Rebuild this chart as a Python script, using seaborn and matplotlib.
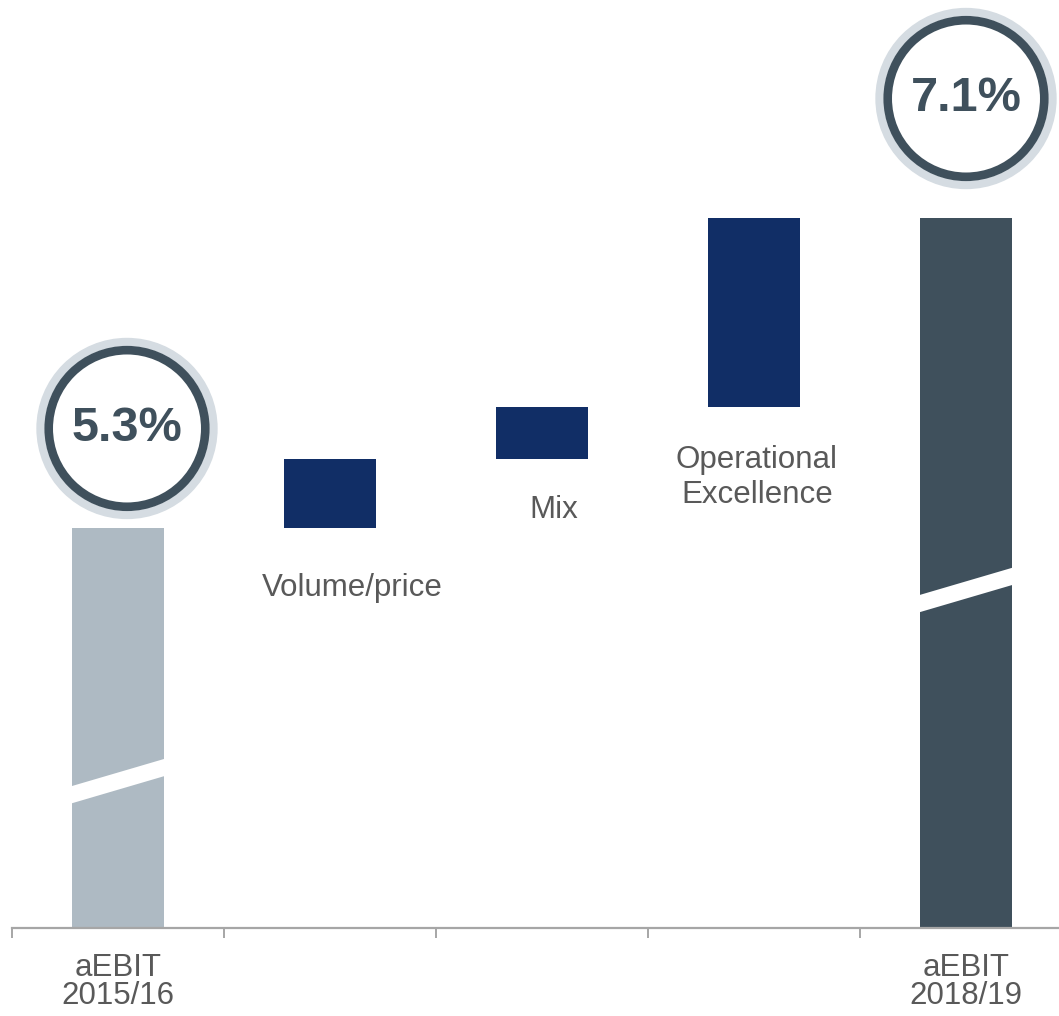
import matplotlib
matplotlib.use("Agg")
import matplotlib.pyplot as plt
from matplotlib.patches import Circle, Polygon
from matplotlib.transforms import IdentityTransform
import seaborn as sns
import numpy as np

# --- data -------------------------------------------------------------
categories = ["aEBIT 2015/16", "Volume/price", "Mix", "Operational Excellence", "aEBIT 2018/19"]
start_margin = 5.3
deltas = [0.4, 0.3, 1.1]
end_margin = 7.1
tick_labels = ["aEBIT\n2015/16", "", "", "", "aEBIT\n2018/19"]
delta_labels = ["Volume/price", "Mix", "Operational\nExcellence"]
total_labels = ["5.3%", "7.1%"]

# --- styling ----------------------------------------------------------
C_START = "#AEBAC3"
C_END = "#3F505C"
C_DELTA = "#112E66"
C_RING_OUT = "#D5DCE2"
C_TEXT = "#595959"
C_AXIS = "#A6A6A6"
Y_FLOOR = 2.977
Y_TOP = 8.366

sns.set_theme(style="white")
plt.rcParams["font.family"] = ["Liberation Sans", "DejaVu Sans"]

# waterfall geometry
bottoms = [Y_FLOOR]
heights = [start_margin - Y_FLOOR]
level = start_margin
for d in deltas:
    bottoms.append(level)
    heights.append(d)
    level += d
bottoms.append(Y_FLOOR)
heights.append(end_margin - Y_FLOOR)
colors = [C_START] + [C_DELTA] * len(deltas) + [C_END]

fig = plt.figure(figsize=(10.59, 10.16), dpi=100)
ax = fig.add_axes([12 / 1059, 88 / 1016, 1047 / 1059, 928 / 1016])

sns.barplot(x=categories, y=heights, bottom=bottoms, width=0.43,
            order=categories, color=C_DELTA, saturation=1, ax=ax, linewidth=0)
for patch, c in zip(ax.patches, colors):
    patch.set_facecolor(c)
    patch.set_edgecolor(c)

ax.set_xlim(-0.5, -0.5 + 1047 / 212)
ax.set_ylim(Y_FLOOR, Y_TOP)
ax.set_ylabel("")
ax.set_yticks([])

for side in ["top", "left", "right"]:
    ax.spines[side].set_visible(False)
ax.spines["bottom"].set_color(C_AXIS)
ax.spines["bottom"].set_linewidth(1.6)

ax.set_xticks(range(len(categories)))
ax.set_xticklabels(tick_labels, fontsize=22.5, color=C_TEXT)
for t in ax.get_xticklabels():
    t.set_linespacing(0.9)
ax.set_xticks(np.arange(-0.5, len(categories) - 1), minor=True)
ax.tick_params(axis="x", which="major", length=0, pad=18)
ax.tick_params(axis="x", which="minor", length=7, width=1.4, color=C_AXIS,
               direction="out", bottom=True)

# labels under the change bars
label_shift = [(22, -45), (12, -36), (3, -38)]
for i, (txt, (dx, dy)) in enumerate(zip(delta_labels, label_shift), start=1):
    ax.annotate(txt, xy=(i, bottoms[i]), xytext=(dx, dy), textcoords="offset pixels",
                ha="center", va="top", fontsize=22.5, color=C_TEXT, linespacing=1.22)

# axis-break slashes on the two total bars
w = 0.43
for i, yc in [(0, 3.83), (4, 4.94)]:
    x0, x1 = i - w / 2 - 0.02, i + w / 2 + 0.02
    slope = 0.17 / (w + 0.04) * (x1 - x0)
    half = 0.05
    poly = Polygon([(x0, yc - slope / 2 - half), (x1, yc + slope / 2 - half),
                    (x1, yc + slope / 2 + half), (x0, yc - slope / 2 + half)],
                   closed=True, facecolor="white", edgecolor="none", zorder=5)
    ax.add_patch(poly)

# ringed value badges above the totals
fig.canvas.draw()
badges = [(0, start_margin, total_labels[0], 9, 99.5),
          (4, end_margin, total_labels[1], 0, 119.5)]
for xi, val, txt, dx, dy in badges:
    px, py = ax.transData.transform((xi, val))
    cx, cy = px + dx, py + dy
    fig.patches.append(Circle((cx, cy), 86.5, transform=IdentityTransform(),
                              facecolor="none", edgecolor=C_RING_OUT, linewidth=6, zorder=3))
    fig.patches.append(Circle((cx, cy), 78.3, transform=IdentityTransform(),
                              facecolor="white", edgecolor=C_END, linewidth=6.2, zorder=4))
    fig.text(cx, cy, txt, transform=IdentityTransform(), ha="center", va="center",
             fontsize=35, fontweight="bold", color=C_END, zorder=6)

fig.savefig("out.png", dpi=100)
